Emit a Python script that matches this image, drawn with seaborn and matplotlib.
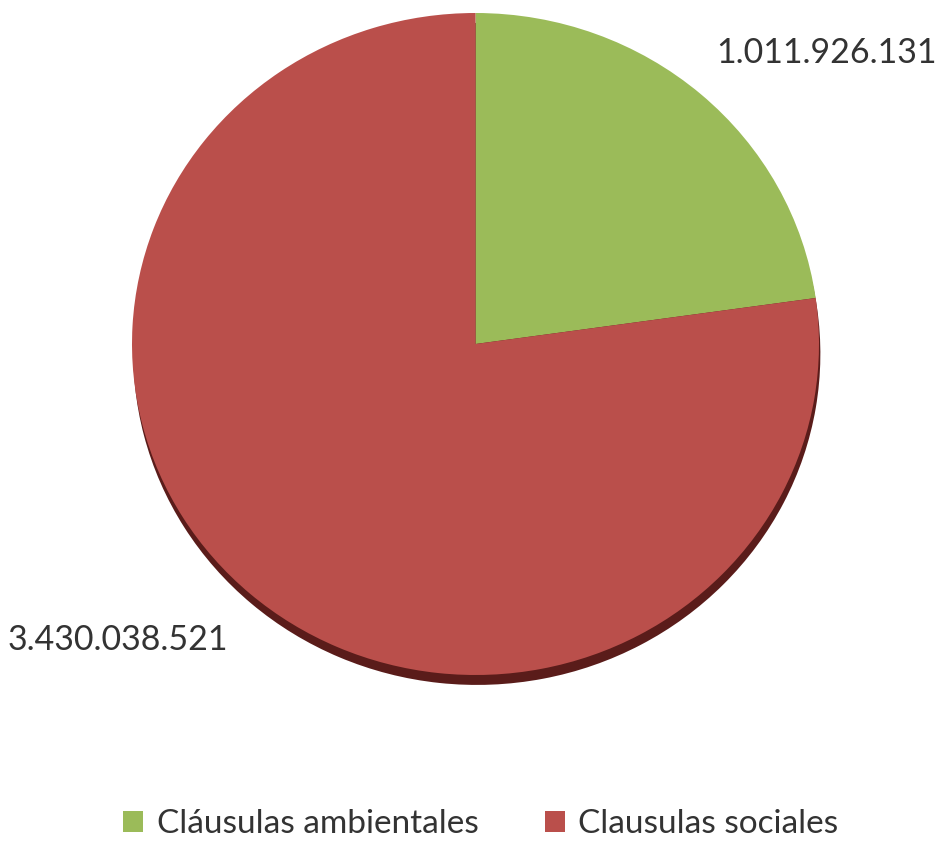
import matplotlib
matplotlib.use('Agg')
import matplotlib.pyplot as plt
import seaborn as sns
from matplotlib.patches import Patch

# datos del grafico
categorias = ['Cláusulas ambientales', 'Clausulas sociales']
valores = [1011926131, 3430038521]
colores = ['#9BBB59', '#BA4F4B']

sns.set_style('white')
plt.rcParams['font.family'] = ['Lato', 'DejaVu Sans']

fig = plt.figure(figsize=(9.40, 8.41), dpi=100)
W, H = 940, 841

# area del pastel en pixeles (x0, y0 desde arriba, ancho, alto)
px0, py0, pw, ph = 132, 13, 687, 662
ax = fig.add_axes([px0 / W, 1 - (py0 + ph) / H, pw / W, ph / H])

# sombra
ax.pie(valores, colors=['#5a1c1a', '#5a1c1a'], startangle=90, counterclock=False,
       radius=1.0, center=(0.004, -0.03), wedgeprops=dict(linewidth=0))
wedges, _ = ax.pie(valores, colors=colores, startangle=90, counterclock=False,
                   radius=1.0, wedgeprops=dict(linewidth=0))
ax.set_aspect('auto')
ax.set_xlim(-1.0, 1.0)
ax.set_ylim(-1.0, 1.0)
ax.axis('off')

def fmt(v):
    return f"{v:,}".replace(",", ".")

color_txt = '#333333'
fig.text(716 / W, 1 - 53 / H, fmt(valores[0]), ha='left', va='center',
         fontsize=24.5, color=color_txt)
fig.text(8 / W, 1 - 640 / H, fmt(valores[1]), ha='left', va='center',
         fontsize=24.5, color=color_txt)

handles = [Patch(facecolor=c, edgecolor='none') for c in colores]
fig.legend(handles, categorias, loc='center', bbox_to_anchor=(481 / W, 1 - 824 / H),
           ncol=2, frameon=False, fontsize=24, handlelength=0.6, handleheight=0.6,
           handletextpad=0.4, columnspacing=2.0, labelcolor=color_txt,
           borderpad=0.1)

fig.savefig('out.png', dpi=100)
